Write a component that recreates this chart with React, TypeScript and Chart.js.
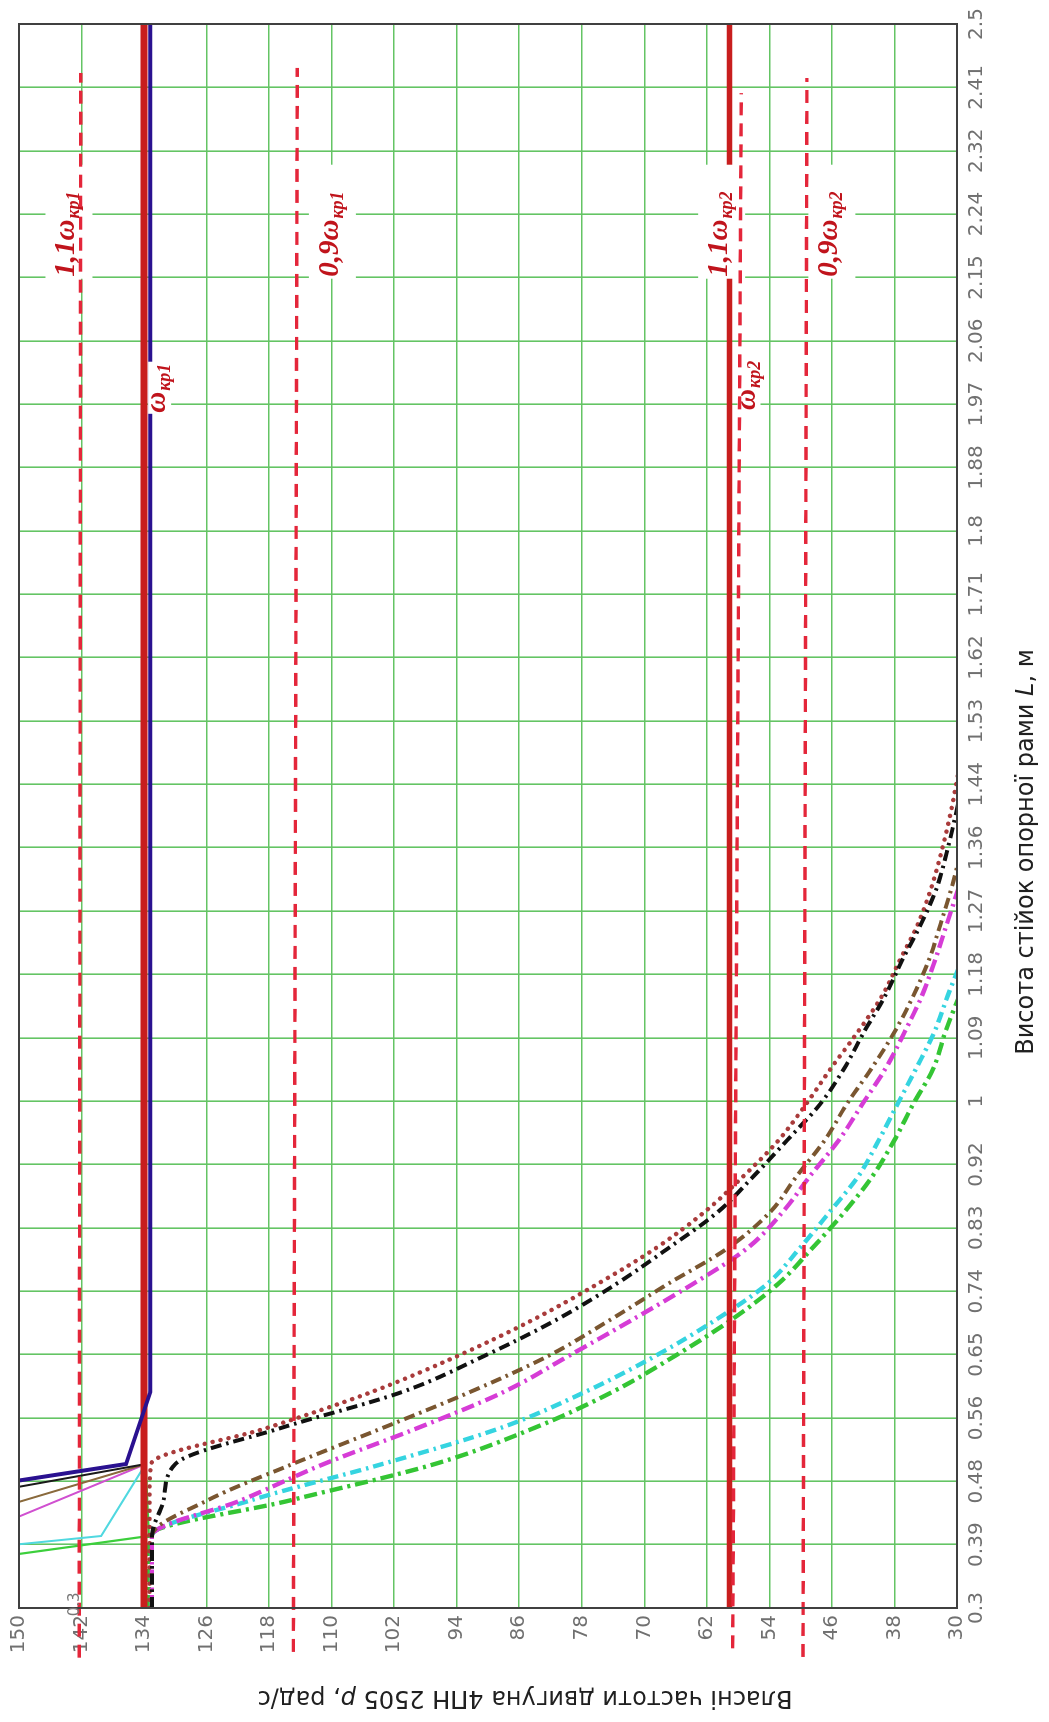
import React, { useEffect, useRef } from 'react';
import { Chart, registerables } from 'chart.js';

Chart.register(...registerables);

// original (unrotated) canvas size; the picture is shown turned 90° counter-clockwise
const CW = 1722;
const CH = 1049;

// ---------- axes ----------
const xTickLabels = ['0.3', '0.39', '0.48', '0.56', '0.65', '0.74', '0.83', '0.92', '1', '1.09', '1.18', '1.27', '1.36',
  '1.44', '1.53', '1.62', '1.71', '1.8', '1.88', '1.97', '2.06', '2.15', '2.24', '2.32', '2.41', '2.5'];
const yTickLabels = [30, 38, 46, 54, 62, 70, 78, 86, 94, 102, 110, 118, 126, 134, 142, 150];
const X_MIN = 0.3;
const X_MAX = 2.5;

// ---------- second-mode curves (dotted / dash-dot) ----------
const curveL = [0.3, 0.4, 0.45, 0.5, 0.55, 0.6, 0.65, 0.7, 0.75, 0.8, 0.85, 0.9, 0.95, 1.0, 1.05, 1.1, 1.15, 1.2, 1.25, 1.3, 1.35, 1.4, 1.45, 1.5];
const wMaroon = [133.3, 133.3, 133.3, 133.1, 118.3, 104.9, 93.9, 84.3, 76.0, 68.5, 62.3, 57.3, 52.8, 49.3, 46.1, 42.7, 39.6, 37.3, 35.0, 33.3, 32.0, 30.9, 30.0, 29.2];
const wBlack = [133.0, 133.0, 131.5, 130.0, 116.5, 101.0, 90.5, 81.3, 73.6, 66.9, 60.6, 56.0, 51.7, 47.5, 44.4, 41.9, 39.2, 37.0, 34.6, 32.6, 31.3, 30.2, 29.2, null];
const wBrown = [133.0, 133.0, 125.8, 115.0, 103.5, 92.3, 82.3, 74.4, 67.0, 59.3, 53.9, 50.5, 46.9, 44.1, 40.9, 38.0, 35.6, 33.6, 32.1, 30.7, 29.5, null, null, null];
const wMagenta = [133.0, 133.0, 121.5, 111.0, 99.0, 88.0, 79.7, 71.6, 63.8, 56.8, 52.3, 48.8, 45.1, 42.1, 39.1, 36.7, 34.5, 32.8, 31.3, 29.8, null, null, null, null];
const wCyan = [133.0, 133.0, 120.2, 103.5, 88.4, 77.6, 68.6, 60.9, 54.3, 50.1, 46.3, 42.6, 40.0, 37.6, 35.2, 32.9, 31.2, 29.4, null, null, null, null, null, null];
const wGreen = [133.4, 133.4, 115.1, 96.8, 84.1, 74.1, 66.1, 58.9, 52.9, 48.5, 44.4, 40.8, 38.0, 35.6, 33.0, 31.5, 29.7, null, null, null, null, null, null, null];

// ---------- first-mode curves (thin solid) ----------
const solidL = [0.3, 0.4, 0.5, 0.6, 2.5];
const sNavy = [null, 196, 136.3, 133.2, 133.2];
const sBlack = [null, 185, 133.8, 133.8, 133.8];
const sBrown = [null, 164.6, 133.8, 133.8, 133.8];
const sMagenta = [null, 156, 133.8, 133.8, 133.8];
const sCyan = [231, 139.5, 133.8, 133.8, 133.8];
const sGreen = [200, 133.4, 133.8, 133.8, 133.8];

// ---------- critical frequencies ----------
const omegaL = [0.3, 2.5];
const omega1 = [134.0, 134.0];
const omega2 = [59.1, 59.1];
const ref11w1L = [0.231, 2.432];
const ref11w1 = [142.3, 142.1];
const ref09w1L = [0.239, 2.439];
const ref09w1 = [114.9, 114.4];
const ref11w2L = [0.244, 2.404];
const ref11w2 = [58.7, 57.6];
const ref09w2L = [0.232, 2.425];
const ref09w2 = [49.7, 49.2];

// labels of the critical lines (anchored in data units)
const labelMain = ['1,1ω', '0,9ω', 'ω', '1,1ω', '0,9ω', 'ω'];
const labelSub = ['кр1', 'кр1', 'кр1', 'кр2', 'кр2', 'кр2'];
const labelAtL = [2.149, 2.149, 1.96, 2.149, 2.149, 1.964];
const labelAtW = [143.8, 110.1, 132.2, 60.3, 46.2, 56.8];
const labelWide = [true, true, false, true, true, false];

const X_TITLE = ['Висота стійок опорної рами ', 'L', ', м'];
const Y_TITLE = ['Власні частоти двигуна 4ПН 2505 ', 'p', ', рад/с'];

const GRID = 'rgb(100,196,100)';
const TICK_FONT = { family: '"DejaVu Sans", sans-serif', size: 20 };
const MAIN_FONT = 'bold italic 29px "Liberation Serif", serif';
const SUB_FONT = 'bold italic 18px "Liberation Serif", serif';
const TITLE_FONT = '24px "DejaVu Sans", sans-serif';
const TITLE_IT = 'italic 24px "DejaVu Sans", sans-serif';

function pts(xs: number[], ys: (number | null)[]) {
  const out: { x: number; y: number }[] = [];
  xs.forEach((x, i) => {
    const y = ys[i];
    if (y !== null && y !== undefined) out.push({ x, y });
  });
  return out;
}

const DASHDOT = [11, 5, 2.5, 5];

function curve(label: string, data: (number | null)[], color: string, dash: number[], width: number, order: number, cap = 'butt') {
  return {
    label,
    data: pts(curveL, data),
    borderColor: color,
    borderWidth: width,
    borderDash: dash,
    borderCapStyle: cap,
    cubicInterpolationMode: 'monotone',
    pointRadius: 0,
    fill: false,
    order,
  };
}

function solid(label: string, data: (number | null)[], color: string, width: number, order: number) {
  return {
    label,
    data: pts(solidL, data),
    borderColor: color,
    borderWidth: width,
    pointRadius: 0,
    fill: false,
    tension: 0,
    order,
  };
}

function refLine(label: string, xs: number[], ys: number[]) {
  return {
    label,
    data: pts(xs, ys),
    borderColor: '#e4263a',
    borderWidth: 3.4,
    borderDash: [13, 8],
    pointRadius: 0,
    fill: false,
    clip: false,
    order: 5,
    isRef: true,
  };
}

function drawLabelBoxes(chart: any) {
  const ctx = chart.ctx;
  const xs = chart.scales.x;
  const ys = chart.scales.y;
  ctx.save();
  ctx.fillStyle = '#ffffff';
  labelMain.forEach((m, i) => {
    const left = xs.getPixelForValue(labelAtL[i]);
    const cy = ys.getPixelForValue(labelAtW[i]);
    ctx.font = MAIN_FONT;
    const wm = ctx.measureText(m).width;
    ctx.font = SUB_FONT;
    const wsub = ctx.measureText(labelSub[i]).width;
    if (labelWide[i]) {
      ctx.fillRect(left - 2, cy - 22, 114, 47);
    } else {
      ctx.fillRect(left - 1, cy - 10, wm + wsub + 4, 23);
    }
  });
  ctx.restore();
}

function drawLabels(chart: any) {
  const ctx = chart.ctx;
  const xs = chart.scales.x;
  const ys = chart.scales.y;
  ctx.save();
  ctx.fillStyle = '#c0141c';
  ctx.textBaseline = 'alphabetic';
  ctx.textAlign = 'left';
  labelMain.forEach((m, i) => {
    const left = xs.getPixelForValue(labelAtL[i]);
    const cy = ys.getPixelForValue(labelAtW[i]);
    ctx.font = MAIN_FONT;
    const wm = ctx.measureText(m).width;
    ctx.fillText(m, left, cy + 7);
    ctx.font = SUB_FONT;
    ctx.fillText(labelSub[i], left + wm + 1, cy + 12);
  });
  ctx.restore();
}

function drawParts(ctx: any, parts: string[], cx: number, cy: number) {
  const fonts = [TITLE_FONT, TITLE_IT, TITLE_FONT];
  const widths = parts.map((p, i) => {
    ctx.font = fonts[i];
    return ctx.measureText(p).width;
  });
  const total = widths.reduce((a, b) => a + b, 0);
  let x = cx - total / 2;
  parts.forEach((p, i) => {
    ctx.font = fonts[i];
    ctx.fillText(p, x, cy);
    x += widths[i];
  });
}

const decoPlugin = {
  id: 'deco',
  beforeDraw(chart: any) {
    chart.$boxesDone = false;
  },
  beforeDatasetDraw(chart: any, args: any) {
    const ds = chart.data.datasets[args.index];
    if (ds && ds.isRef && !chart.$boxesDone) {
      drawLabelBoxes(chart);
      chart.$boxesDone = true;
    }
  },
  afterDatasetsDraw(chart: any) {
    const ctx = chart.ctx;
    const a = chart.chartArea;
    ctx.save();
    ctx.strokeStyle = '#404040';
    ctx.lineWidth = 2;
    ctx.strokeRect(a.left, a.top, a.right - a.left, a.bottom - a.top);
    ctx.restore();
    drawLabels(chart);
    // stray axis-limit note near the corner
    ctx.save();
    ctx.fillStyle = '#777';
    ctx.font = '15px "DejaVu Sans", sans-serif';
    ctx.textAlign = 'center';
    ctx.textBaseline = 'middle';
    ctx.fillText('0.3', chart.scales.x.getPixelForValue(0.305), chart.scales.y.getPixelForValue(142.8));
    ctx.restore();
  },
  afterDraw(chart: any) {
    const ctx = chart.ctx;
    ctx.save();
    ctx.fillStyle = '#202020';
    ctx.textBaseline = 'middle';
    ctx.textAlign = 'left';
    drawParts(ctx, X_TITLE, 870, 1027);
    ctx.translate(25, 525);
    ctx.rotate(-Math.PI / 2);
    drawParts(ctx, Y_TITLE, 0, 0);
    ctx.restore();
  },
};

export default function App() {
  const ref = useRef<HTMLCanvasElement | null>(null);

  useEffect(() => {
    if (!ref.current) return;
    const datasets: any[] = [
      refLine('0,9ω кр2', ref09w2L, ref09w2),
      refLine('1,1ω кр2', ref11w2L, ref11w2),
      refLine('0,9ω кр1', ref09w1L, ref09w1),
      refLine('1,1ω кр1', ref11w1L, ref11w1),
      {
        label: 'ω кр2', data: pts(omegaL, omega2), borderColor: '#c81e1e', borderWidth: 5.5,
        pointRadius: 0, fill: false, order: 12,
      },
      {
        label: 'ω кр1', data: pts(omegaL, omega1), borderColor: '#c81e1e', borderWidth: 7,
        pointRadius: 0, fill: false, order: 15,
      },
      solid('navy 1', sNavy, '#2a1190', 4, 14),
      solid('black 1', sBlack, '#1a1a1a', 2, 30),
      solid('brown 1', sBrown, '#8a6a3c', 2, 31),
      solid('magenta 1', sMagenta, '#d050d0', 2, 32),
      solid('cyan 1', sCyan, '#50d8e0', 2, 33),
      solid('green 1', sGreen, '#3ccf3c', 2.2, 34),
      curve('black 2', wBlack, '#111111', DASHDOT, 4, 20),
      curve('maroon 2', wMaroon, '#a93b3b', [0.1, 8], 4.4, 21, 'round'),
      curve('brown 2', wBrown, '#7a5630', DASHDOT, 4, 22),
      curve('magenta 2', wMagenta, '#d63cd6', [13, 5, 2.5, 5], 4.4, 23),
      curve('cyan 2', wCyan, '#35d4e0', DASHDOT, 4.4, 24),
      curve('green 2', wGreen, '#34c534', [13, 5, 3, 5], 4.4, 25),
    ];

    const chart = new Chart(ref.current, {
      type: 'line',
      data: { datasets },
      plugins: [decoPlugin as any],
      options: {
        responsive: false,
        animation: false,
        devicePixelRatio: 1,
        layout: { padding: { left: 0, right: 24, top: 18, bottom: 0 } },
        plugins: { legend: { display: false }, tooltip: { enabled: false }, title: { display: false } },
        elements: { point: { radius: 0 } },
        scales: {
          x: {
            type: 'linear',
            min: X_MIN,
            max: X_MAX,
            afterBuildTicks: (s: any) => {
              const step = (X_MAX - X_MIN) / (xTickLabels.length - 1);
              s.ticks = xTickLabels.map((_, i) => ({ value: Math.round((X_MIN + i * step) * 10000) / 10000 }));
            },
            afterFit: (s: any) => { s.height = 92; },
            grid: { color: GRID, lineWidth: 1.6, drawTicks: false },
            border: { display: false },
            ticks: {
              autoSkip: false,
              maxRotation: 0,
              minRotation: 0,
              padding: 8,
              color: '#707070',
              font: TICK_FONT,
              callback: (_v: any, i: number) => xTickLabels[i],
            },
          },
          y: {
            type: 'linear',
            min: 30,
            max: 150,
            afterBuildTicks: (s: any) => {
              s.ticks = yTickLabels.map((v) => ({ value: v }));
            },
            afterFit: (s: any) => { s.width = 114; },
            grid: { color: GRID, lineWidth: 1.6, drawTicks: false },
            border: { display: false },
            ticks: {
              padding: 7,
              color: '#707070',
              font: TICK_FONT,
              callback: (v: any) => String(v),
            },
          },
        },
      } as any,
    });
    return () => chart.destroy();
  }, []);

  return (
    <div style={{ position: 'absolute', left: 0, top: 0, width: 1049, height: 1722, overflow: 'hidden', background: '#fff' }}>
      <canvas
        ref={ref}
        width={CW}
        height={CH}
        style={{
          position: 'absolute',
          left: 0,
          top: 0,
          width: CW,
          height: CH,
          transformOrigin: '0 0',
          transform: `translate(0px, ${CW}px) rotate(-90deg)`,
        }}
      />
    </div>
  );
}
